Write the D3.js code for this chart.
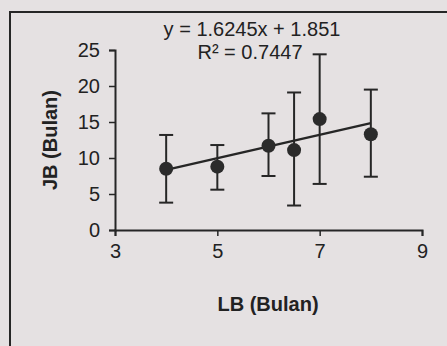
<!DOCTYPE html>
<html>
<head>
<meta charset="utf-8">
<script src="https://cdn.jsdelivr.net/npm/d3@7"></script>
<style>
	html, body { margin: 0; padding: 0; background: #e5e1e2; }
	svg { display: block; }
	text { font-family: "Liberation Sans", Arial, sans-serif; fill: #222; }
</style>
</head>
<body>
<script>
// values
const lb = [4, 5, 6, 6.5, 7, 8];
const jb = [8.5, 8.8, 11.7, 11.1, 15.4, 13.3];
const jbLow = [3.8, 5.6, 7.5, 3.4, 6.4, 7.4];
const jbHigh = [13.2, 11.8, 16.2, 19.1, 24.4, 19.5];
const xTicks = [3, 5, 7, 9];
const yTicks = [0, 5, 10, 15, 20, 25];
const slope = 1.6245;
const intercept = 1.851;
const rSquared = '0.7447';

const width = 447;
const height = 346;
const ink = '#262626';

const svg = d3.select('body')
	.append('svg')
	.attr('width', width)
	.attr('height', height);

svg.append('rect')
	.attr('x', 10)
	.attr('y', 12)
	.attr('width', 460)
	.attr('height', 360)
	.attr('fill', 'none')
	.attr('stroke', ink)
	.attr('stroke-width', 2);

const x = d3.scaleLinear().domain([3, 9]).range([115, 422]);
const y = d3.scaleLinear().domain([0, 25]).range([230, 50]);

const data = lb.map((v, i) => ({ x: v, y: jb[i], lo: jbLow[i], hi: jbHigh[i] }));

const xAxis = svg.append('g')
	.attr('transform', `translate(0,${y(0)})`)
	.call(d3.axisBottom(x).tickValues(xTicks).tickFormat(d3.format('d')).tickSize(6).tickPadding(8));

const yAxis = svg.append('g')
	.attr('transform', `translate(${x(3)},0)`)
	.call(d3.axisLeft(y).tickValues(yTicks).tickFormat(d3.format('d')).tickSize(6).tickPadding(9));

[xAxis, yAxis].forEach(g => {
	g.select('.domain').attr('stroke', ink).attr('stroke-width', 2);
	g.selectAll('.tick line').attr('stroke', ink).attr('stroke-width', 1.5);
	g.selectAll('.tick text')
		.attr('fill', ink)
		.style('font-size', '20px')
		.style('font-family', '"Liberation Sans", Arial, sans-serif');
});

// error bars
const bars = svg.append('g')
	.selectAll('g')
	.data(data)
	.enter()
	.append('g')
	.attr('stroke', ink)
	.attr('stroke-width', 2);

bars.append('line')
	.attr('x1', d => x(d.x))
	.attr('x2', d => x(d.x))
	.attr('y1', d => y(d.lo))
	.attr('y2', d => y(d.hi));

bars.append('line')
	.attr('x1', d => x(d.x) - 7)
	.attr('x2', d => x(d.x) + 7)
	.attr('y1', d => y(d.hi))
	.attr('y2', d => y(d.hi));

bars.append('line')
	.attr('x1', d => x(d.x) - 7)
	.attr('x2', d => x(d.x) + 7)
	.attr('y1', d => y(d.lo))
	.attr('y2', d => y(d.lo));

// trend line
const trend = d3.extent(lb).map(v => [v, slope * v + intercept]);

svg.append('path')
	.datum(trend)
	.attr('fill', 'none')
	.attr('stroke', ink)
	.attr('stroke-width', 2.5)
	.attr('d', d3.line().x(d => x(d[0])).y(d => y(d[1])));

svg.append('g')
	.selectAll('circle')
	.data(data)
	.enter()
	.append('circle')
	.attr('cx', d => x(d.x))
	.attr('cy', d => y(d.y))
	.attr('r', 7)
	.attr('fill', '#2b2b2b');

// labels
svg.append('text')
	.attr('x', 252)
	.attr('y', 36)
	.attr('text-anchor', 'middle')
	.style('font-size', '20px')
	.text(`y = ${slope}x + ${intercept}`);

svg.append('text')
	.attr('x', 250)
	.attr('y', 59)
	.attr('text-anchor', 'middle')
	.style('font-size', '20px')
	.text(`R² = ${rSquared}`);

svg.append('text')
	.attr('x', 268)
	.attr('y', 311)
	.attr('text-anchor', 'middle')
	.style('font-size', '20px')
	.style('font-weight', 'bold')
	.text('LB (Bulan)');

svg.append('text')
	.attr('transform', 'translate(57,140) rotate(-90)')
	.attr('text-anchor', 'middle')
	.style('font-size', '20px')
	.style('font-weight', 'bold')
	.text('JB (Bulan)');
</script>
</body>
</html>
